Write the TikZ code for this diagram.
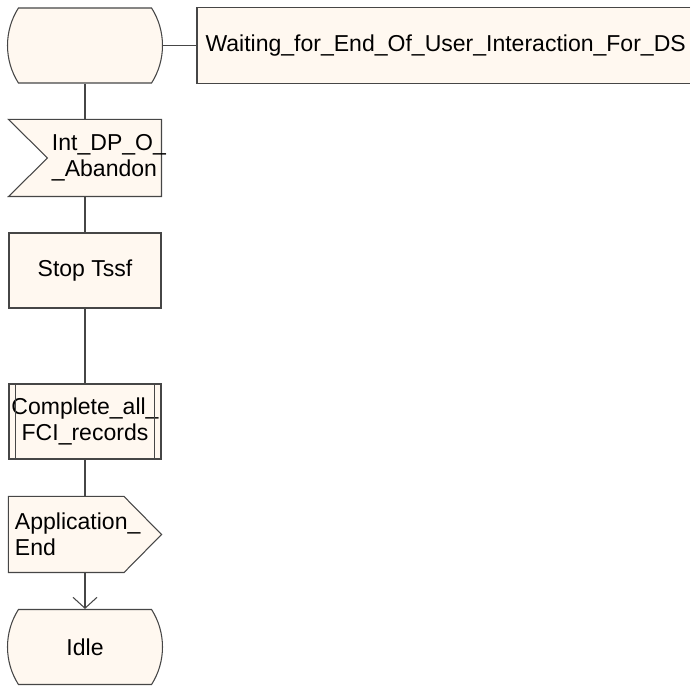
\documentclass[tikz,border=0pt]{standalone}
\usepackage{fontspec}
\setmainfont{Liberation Sans}
\usetikzlibrary{shapes.misc, arrows.meta, backgrounds}
\definecolor{sdlfill}{RGB}{255,248,240}
\definecolor{sdlline}{RGB}{70,70,70}
\newcommand{\textindent}[1]{\setlength{\leftskip}{#1}}
\tikzset{
  sdl/.style={draw=sdlline, fill=sdlfill, line width=0.6pt, minimum width=3.04cm, minimum height=1.5cm, inner sep=0pt, font=\fontsize{13.1pt}{14.8pt}\selectfont},
  state/.style={sdl, rounded rectangle, rounded rectangle arc length=65, minimum width=3.1cm},
  task/.style={sdl, rectangle, align=center},
  signalbox/.style={sdl, draw=none, fill=none, rectangle, text width=3.04cm, align=left},
  input/.style={signalbox, minimum height=1.52cm, execute at begin node={\textindent{0.86cm}}},
  output/.style={signalbox, execute at begin node={\textindent{0.12cm}}},
  outline/.style={draw=sdlline, fill=sdlfill, line width=0.6pt},
  link/.style={draw=sdlline, line width=0.6pt}
}

\begin{document}
\begin{tikzpicture}
    \useasboundingbox (0,0) rectangle (13.9,-13.72);

    % Draw nodes
    \node[state] (start) at (1.7,-0.91) {};
    \node[sdl, draw=none, anchor=west, inner xsep=0.16cm, text width=9.52cm, align=left] (wait) at (3.94,-0.91) {Waiting\_for\_End\_Of\_User\_Interaction\_For\_DS};
    \node[input] (abandon) at (1.7,-3.16) {Int\_DP\_O\_\\\_Abandon};
    \node[task] (stop) at (1.7,-5.41) {Stop Tssf};
    \node[task] (fci) at (1.7,-8.43) {Complete\_all\_\\FCI\_records};
    \node[output] (appEnd) at (1.7,-10.69) {Application\_\\End};
    \node[state] (idle) at (1.7,-12.94) {Idle};

    % Input and output symbols
    \begin{scope}[on background layer]
        \draw[outline] (abandon.north west) -- (abandon.north east) -- (abandon.south east) -- (abandon.south west) -- ([xshift=0.78cm]abandon.west) -- cycle;
        \draw[outline] (appEnd.north west) -- ([xshift=-0.75cm]appEnd.north east) -- (appEnd.east) -- ([xshift=-0.75cm]appEnd.south east) -- (appEnd.south west) -- cycle;
    \end{scope}

    % Comment and procedure sides
    \draw[link] (wait.north east) -- (wait.north west) -- (wait.south west) -- (wait.south east);
    \draw[link] ([xshift=0.14cm]fci.north west) -- ([xshift=0.14cm]fci.south west);
    \draw[link] ([xshift=-0.14cm]fci.north east) -- ([xshift=-0.14cm]fci.south east);

    % Draw connections
    \draw[link] (start.east) -- (wait.west);
    \draw[link] (start.south) -- (abandon.north);
    \draw[link] (abandon.south) -- (stop.north);
    \draw[link] (stop.south) -- (fci.north);
    \draw[link] (fci.south) -- (appEnd.north);
    \draw[link, -{Straight Barb[length=6.2pt, width=13.6pt]}] (appEnd.south) -- (idle.north);
\end{tikzpicture}
\end{document}
